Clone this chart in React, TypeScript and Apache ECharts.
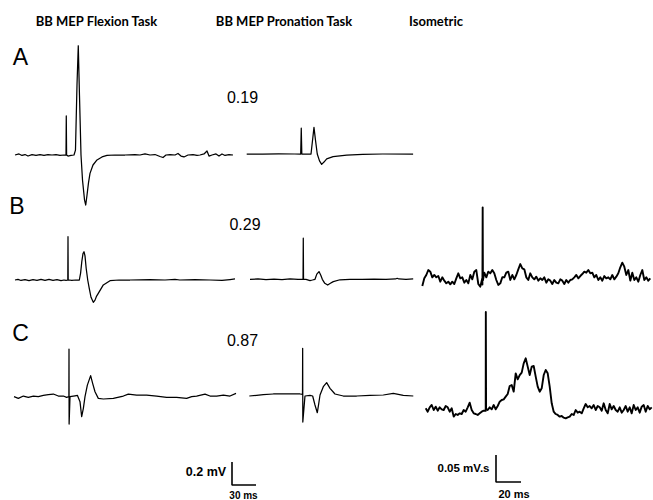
import React, { useEffect, useRef } from "react";
import * as echarts from "echarts";

// ---- Text content ----
const TITLES = ["BB MEP Flexion Task", "BB MEP Pronation Task", "Isometric"];
const ROW_LABELS = ["A", "B", "C"];
const RATIOS = ["0.19", "0.29", "0.87"];

// ---- Scale bars ----
const EMG_BAR_MS = 30;
const EMG_BAR_MV = 0.2;
const ISO_BAR_MS = 20;
const ISO_BAR_VAL = 50; // mV·ms  (= 0.05 mV.s)

// ---- MEP traces: [time ms, amplitude mV] ----
const A_FLEX: number[][] = [
  [0, 0], [5, 0.009], [8.75, -0.004], [12.5, 0.004], [16.25, -0.009], [21.25, 0.004], [26.25, -0.004],
  [31.25, 0.004], [36.25, -0.004], [41.25, 0.004], [46.25, 0], [51.25, 0.004], [56.25, -0.004], [61.25, 0],
  [63.75, 0], [64.1, 0.34], [64.5, 0], [66.25, -0.009], [70, -0.004], [73.75, 0], [75.6, 0.043], [77.5, 0.61],
  [79.1, 0.95], [80.6, 0.52], [82.5, 0], [84.4, -0.22], [86.9, -0.39], [88.4, -0.435], [90, -0.35],
  [91.9, -0.24], [93.75, -0.16], [97.5, -0.087], [102.5, -0.043], [108.75, -0.017], [115, -0.004], [125, 0],
  [137.5, 0], [150, 0.003], [156.25, 0], [162.5, 0.009], [168.75, 0], [175, 0.004], [181.25, -0.013],
  [185, -0.022], [188.75, 0], [193.75, 0.004], [200, 0], [203.75, 0.013], [207.5, -0.009], [211.25, -0.017],
  [216.25, 0], [222.5, 0.004], [227.5, -0.004], [231.25, 0], [236.25, 0.009], [240, 0.035], [242.5, -0.009],
  [246.25, 0], [251.25, 0.009], [255, -0.009], [258.75, 0.009], [262.5, -0.004], [267.5, 0.004], [272.5, 0],
];
const A_PRON: number[][] = [
  [0, 0], [20, 0], [40, 0.002], [60, 0], [67.5, 0], [68.2, 0.224], [68.9, 0], [80.4, 0], [82.3, 0.12],
  [84.1, 0.232], [86, 0.12], [88.2, 0], [91, -0.06], [93.7, -0.09], [96.6, -0.07], [100, -0.043],
  [108, -0.023], [125, -0.009], [145, -0.003], [170, 0], [208, 0],
];
const B_FLEX: number[][] = [
  [0, 0], [3.75, 0.006], [7.5, -0.004], [12.5, 0.004], [17.5, -0.006], [22.5, 0.004], [27.5, -0.004],
  [32.5, 0.006], [37.5, -0.004], [42.5, 0.006], [47.5, -0.004], [52.5, 0.004], [57.5, -0.006], [61.25, 0],
  [63.75, -0.004], [66, 0], [66.25, 0.377], [66.5, 0], [67.5, 0], [71, -0.004], [76, 0], [80.4, 0],
  [82, 0.06], [83.5, 0.16], [85, 0.23], [86.25, 0.246], [87.5, 0.21], [89, 0.1], [90.9, 0], [93, -0.08],
  [95, -0.15], [97.9, -0.194], [100, -0.175], [102, -0.14], [104.1, -0.116], [110.4, -0.043],
  [118.75, -0.006], [130, 0], [143.75, 0], [168.75, 0.004], [187.5, 0], [200, 0.006], [206, 0],
  [225, 0.003], [243.75, 0], [258.75, -0.004], [268.75, 0.004], [275, 0.009],
];
const B_PRON: number[][] = [
  [0, 0], [10, 0.003], [20, -0.003], [30, 0.002], [40, -0.002], [50, 0.003], [60, 0], [66.3, 0],
  [66.6, 0.357], [66.9, 0], [70, 0], [75, -0.011], [78, -0.006], [81.25, 0], [83.5, 0.045], [86.25, 0.067],
  [88.5, 0.035], [90.4, 0], [93.5, -0.035], [97.1, -0.05], [100.5, -0.035], [104.1, -0.02], [112.5, -0.004],
  [125, 0], [140, 0], [155, 0.002], [170, 0], [182, 0.003], [184, 0.009], [186, 0.003], [195, 0], [204, 0.003],
];
const C_FLEX: number[][] = [
  [0, 0], [5.4, -0.0145], [11.7, 0.0058], [17.9, -0.0058], [24.2, 0.0058], [30.4, 0], [36.7, 0.0116],
  [42.9, 0.0174], [49.2, 0.0232], [55.4, 0.0058], [61.7, 0.0058], [65.8, -0.0058], [68.6, 0],
  [68.75, 0.414], [68.9, -0.238], [70, 0], [76.25, 0.0078], [79.2, 0.0116], [82.5, -0.043], [84.6, -0.174],
  [86.7, -0.101], [88.75, 0], [91.7, 0.101], [95.8, 0.183], [98.3, 0.116], [101.25, 0.043],
  [105.4, -0.0145], [111.7, -0.02], [124.2, -0.0145], [136.7, 0.0058], [142.9, 0.023], [153.3, 0.0145],
  [165.8, 0.0145], [178.3, 0.0058], [190.8, -0.0058], [203.3, -0.0058], [215.8, -0.0145], [222.1, 0],
  [228.3, 0.0058], [238.75, 0.023], [245, 0.0058], [253.3, 0.0058], [261.7, 0.0145], [270, 0.0058],
  [277.5, 0.029],
];
const C_PRON: number[][] = [
  [0, -0.0087], [9.2, -0.0029], [17.5, 0.0029], [30, 0.0087], [42.5, 0.0087], [55, 0.0087], [63.4, 0.0087],
  [66.5, 0.005], [66.7, 0.406], [66.9, -0.235], [69.6, -0.0087], [75.9, -0.0029], [79.2, -0.0087],
  [82.1, -0.087], [85, -0.154], [86.7, -0.08], [88.4, 0], [92.5, 0.072], [96.7, 0.107], [100.9, 0.058],
  [107.1, 0.0087], [117.5, -0.0087], [134.2, -0.0087], [150.9, -0.0029], [167.5, 0], [180, 0.0145],
  [192.5, -0.0029], [205, -0.0087],
];

// ---- Isometric traces: samples every 1.6 ms, values in mV·ms ----
const ISO_DT = 1.6;
const B_ISO: number[] = [
  7.4, 21.6, 27.8, 37.0, 34.0, 23.5, 27.8, 23.5, 25.9, 15.4,
  23.5, 17.3, 12.3, 15.4, 10.5, 15.4, 11.1, 21.6, 30.9, 21.6,
  23.5, 13.6, 18.5, 12.3, 27.8, 19.8, 34.0, 37.0, 11.1, 6.2,
  21.6, 32.1, 23.5, 34.0, 30.9, 37.0, 30.9, 18.5, 9.3, 12.3,
  23.5, 23.5, 32.1, 34.0, 18.5, 27.8, 19.8, 27.8, 38.3, 48.1,
  40.1, 38.3, 23.5, 18.5, 30.9, 23.5, 19.8, 24.7, 17.3, 21.6,
  18.5, 23.5, 13.6, 19.8, 17.3, 11.1, 18.5, 13.6, 12.3, 19.8,
  17.3, 11.1, 18.5, 13.6, 18.5, 19.8, 23.5, 27.8, 21.6, 25.9,
  29.6, 34.0, 32.1, 37.0, 30.9, 32.1, 23.5, 27.8, 18.5, 23.5,
  17.3, 25.9, 21.6, 23.5, 19.8, 27.8, 19.8, 24.7, 30.9, 42.0,
  50.6, 43.2, 27.8, 37.0, 17.3, 32.1, 18.5, 23.5, 15.4, 27.8,
  37.0, 18.5, 23.5, 17.3, 21.6,
];
const B_ISO_SPIKE: number[][] = [[48.1, 10.0], [48.3, 153.1], [48.5, 18.0]];
const C_ISO: number[] = [
  21.6, 15.4, 23.5, 27.8, 18.5, 24.7, 17.3, 23.5, 19.8, 18.5,
  25.9, 23.5, 15.4, 21.6, 6.2, 11.1, 9.3, 12.3, 11.1, 18.5,
  15.4, 23.5, 32.1, 18.5, 12.3, 11.1, 9.3, 12.3, 15.4, 17.3,
  21.6, 18.5, 23.5, 19.8, 27.8, 19.8, 25.9, 34.0, 37.0, 38.3,
  43.2, 48.1, 63.0, 64.8, 52.5, 86.4, 75.3, 83.0, 87.7, 104.9,
  114.2, 98.8, 83.3, 98.8, 100.0, 80.2, 61.7, 52.5, 58.6, 83.3,
  92.6, 86.4, 61.7, 30.9, 15.4, 11.1, 9.3, 6.2, 7.4, 4.3,
  3.1, 4.9, 6.2, 11.1, 9.3, 18.5, 13.6, 15.4, 12.3, 21.6,
  29.6, 23.5, 25.9, 21.6, 27.8, 18.5, 25.9, 23.5, 17.3, 30.9,
  18.5, 12.3, 29.6, 19.8, 25.9, 18.5, 15.4, 23.5, 13.6, 18.5,
  25.9, 15.4, 23.5, 12.3, 27.8, 18.5, 23.5, 13.6, 24.7, 27.8,
  15.4, 25.9, 19.8, 23.5,
];
const C_ISO_SPIKE: number[][] = [[47.95, 17.0], [48.1, 200.0], [48.3, 21.0]];

function isoSeries(samples: number[], spike: number[][]): number[][] {
  const pts = samples.map((v, i) => [i * ISO_DT, v]);
  return pts.concat(spike).sort((a, b) => a[0] - b[0]);
}

export default function App() {
  const ref = useRef<HTMLDivElement>(null);
  useEffect(() => {
    document.body.style.margin = "0";
    const chart = echarts.init(ref.current!, undefined, { renderer: "svg" });

    // layout: pixels per unit
    const EMG_PX_MS = 0.8;
    const EMG_PX_MV = 115;
    const ISO_PX_MS = 1.25;
    const ISO_PX_VAL = 0.54;

    const panels = [
      { data: A_FLEX, kind: "emg", left: 15, base: 155 },
      { data: A_PRON, kind: "emg", left: 246.7, base: 154 },
      { data: B_FLEX, kind: "emg", left: 15, base: 280 },
      { data: B_PRON, kind: "emg", left: 250, base: 279.3 },
      { data: C_FLEX, kind: "emg", left: 14, base: 396.7 },
      { data: C_PRON, kind: "emg", left: 249.3, base: 395 },
      { data: isoSeries(B_ISO, B_ISO_SPIKE), kind: "iso", left: 422.3, base: 290 },
      { data: isoSeries(C_ISO, C_ISO_SPIKE), kind: "iso", left: 425.7, base: 420 },
    ];

    const grids: any[] = [];
    const xAxes: any[] = [];
    const yAxes: any[] = [];
    const series: any[] = [];

    panels.forEach((p, i) => {
      const xMax = p.data[p.data.length - 1][0];
      const isEmg = p.kind === "emg";
      const pxMs = isEmg ? EMG_PX_MS : ISO_PX_MS;
      const pxV = isEmg ? EMG_PX_MV : ISO_PX_VAL;
      const yMin = isEmg ? -0.6 : -20;
      const yMax = isEmg ? 1.0 : 220;
      grids.push({
        left: p.left,
        top: p.base - yMax * pxV,
        width: xMax * pxMs,
        height: (yMax - yMin) * pxV,
        show: false,
      });
      xAxes.push({ type: "value", gridIndex: i, min: 0, max: xMax, show: false });
      yAxes.push({ type: "value", gridIndex: i, min: yMin, max: yMax, show: false });
      series.push({
        type: "line",
        xAxisIndex: i,
        yAxisIndex: i,
        data: p.data,
        showSymbol: false,
        symbol: "none",
        clip: false,
        silent: true,
        lineStyle: { color: "#000", width: isEmg ? 1.25 : 1.9, join: "round" },
      });
    });

    // scale bars drawn through their own scaled grids
    const bars = [
      { left: 232, top: 462, ms: EMG_BAR_MS, val: EMG_BAR_MV, pxMs: EMG_PX_MS, pxV: EMG_PX_MV },
      { left: 496, top: 455, ms: ISO_BAR_MS, val: ISO_BAR_VAL, pxMs: ISO_PX_MS, pxV: ISO_PX_VAL },
    ];
    bars.forEach((b) => {
      const i = grids.length;
      grids.push({ left: b.left, top: b.top, width: b.ms * b.pxMs, height: b.val * b.pxV, show: false });
      xAxes.push({ type: "value", gridIndex: i, min: 0, max: b.ms, show: false });
      yAxes.push({ type: "value", gridIndex: i, min: 0, max: b.val, show: false });
      series.push({
        type: "line",
        xAxisIndex: i,
        yAxisIndex: i,
        data: [[0, b.val], [0, 0], [b.ms, 0]],
        showSymbol: false,
        symbol: "none",
        clip: false,
        silent: true,
        lineStyle: { color: "#000", width: 1.6 },
      });
    });

    const txt = (x: number, y: number, text: string, size: number, weight: string, family: string) => ({
      type: "text",
      x,
      y,
      silent: true,
      style: {
        text,
        fill: "#000",
        fontSize: size,
        fontWeight: weight,
        fontFamily: family,
        align: "center",
        verticalAlign: "middle",
        textAlign: "center",
        textVerticalAlign: "middle",
      },
    });

    const titleFont = "Lato, sans-serif";
    const arial = '"Liberation Sans", Arial, sans-serif';
    const graphic = [
      txt(96.5, 21, TITLES[0], 13, "bold", titleFont),
      txt(284, 21, TITLES[1], 13, "bold", titleFont),
      txt(436, 21, TITLES[2], 13, "bold", titleFont),
      txt(20.5, 56.5, ROW_LABELS[0], 23, "normal", arial),
      txt(17, 206, ROW_LABELS[1], 23, "normal", arial),
      txt(20.5, 333, ROW_LABELS[2], 23, "normal", arial),
      txt(242.5, 97.5, RATIOS[0], 16, "normal", arial),
      txt(245, 224, RATIOS[1], 16, "normal", arial),
      txt(242.5, 340, RATIOS[2], 16, "normal", arial),
      txt(206, 472, "0.2 mV", 12.5, "bold", arial),
      txt(243.5, 495, "30 ms", 10, "bold", arial),
      txt(463.5, 468, "0.05 mV.s", 11.5, "bold", arial),
      txt(514, 494, "20 ms", 11, "bold", arial),
    ];

    chart.setOption({
      animation: false,
      backgroundColor: "#fff",
      grid: grids,
      xAxis: xAxes,
      yAxis: yAxes,
      series,
      graphic,
    });
    return () => chart.dispose();
  }, []);
  return <div ref={ref} style={{ width: 653, height: 500 }} />;
}
